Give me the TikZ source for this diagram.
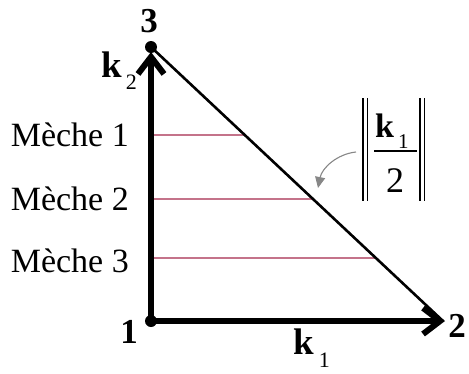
\documentclass[tikz,border=0pt]{standalone}
\usepackage{fontspec}
\setmainfont{Liberation Serif}
\usetikzlibrary{arrows.meta,calc}
\definecolor{meche}{RGB}{165,40,75}
\definecolor{curvegray}{RGB}{135,135,135}
\tikzset{
  axis/.style={line width=6pt,-{Straight Barb[length=17pt,width=26pt]}},
  hyp/.style={line width=2.6pt},
  mecheline/.style={meche,line width=1.3pt},
  lbl/.style={inner sep=0pt,font=\fontsize{34}{34}\selectfont},
  num/.style={inner sep=0pt,font=\fontsize{35}{35}\selectfont\bfseries},
  vec/.style={inner sep=0pt,font=\fontsize{37}{37}\selectfont},
  bar/.style={line width=1.4pt},
  dot/.style={circle,fill=black,inner sep=0pt,minimum size=12pt},
}
\begin{document}
\begin{tikzpicture}[x=1pt,y=-1pt]
\useasboundingbox (0,0) rectangle (469,373);
% vertices
\coordinate (p1) at (151,321);
\coordinate (p3) at (151,47);
\coordinate (p2) at (443,321);
\coordinate (tipx) at (445,321);
\coordinate (tipy) at (151,52);
% red lines (meches)
\coordinate (m1a) at (153,135);
\coordinate (m2a) at (153,199);
\coordinate (m3a) at (153,258);
\coordinate (m1b) at ($(p3)!{(135-47)/274}!(p2)$);
\coordinate (m2b) at ($(p3)!{(199-47)/274}!(p2)$);
\coordinate (m3b) at ($(p3)!{(258-47)/274}!(p2)$);
\draw[mecheline] (m1a) -- (m1b);
\draw[mecheline] (m2a) -- (m2b);
\draw[mecheline] (m3a) -- (m3b);
% hypotenuse
\draw[hyp] (p3) -- (p2);
% axes
\draw[axis] (p1) -- (tipx);
\draw[axis] (p1) -- (tipy);
\node[dot] (d1) at (p1) {};
\node[dot] (d3) at (p3) {};
% vertex labels
\node[num,anchor=base] (n3) at (149,32) {3};
\node[num,anchor=base] (n1) at (129,343) {1};
\node[num,anchor=base] (n2) at (457,337) {2};
% vector labels
\node[vec,anchor=base west] (k2) at (101,77) {\textbf{k}\hspace{4pt}\raisebox{-12pt}{\fontsize{22}{22}\selectfont 2}};
\node[vec,anchor=base west] (k1) at (293,354) {\textbf{k}\hspace{5pt}\raisebox{-13pt}{\fontsize{22}{22}\selectfont 1}};
% meche labels
\node[lbl,anchor=base east] (l1) at (129,146) {Mèche 1};
\node[lbl,anchor=base east] (l2) at (129,210) {Mèche 2};
\node[lbl,anchor=base east] (l3) at (129,272) {Mèche 3};
% norm of k1/2
\node[inner sep=0pt,font=\fontsize{34}{34}\selectfont,anchor=base west] (fk) at (375,137) {\textbf{k}\hspace{4pt}\raisebox{-11pt}{\fontsize{21}{21}\selectfont 1}};
\node[inner sep=0pt,font=\fontsize{36}{36}\selectfont,anchor=base] (f2) at (395,192) {2};
\coordinate (fbl) at (374,151);
\coordinate (fbr) at (417,151);
\draw[line width=1.6pt] (fbl) -- (fbr);
\coordinate (b1t) at (363,98);  \coordinate (b1b) at (363,201);
\coordinate (b2t) at (367.5,98);\coordinate (b2b) at (367.5,201);
\coordinate (b3t) at (420,98);  \coordinate (b3b) at (420,201);
\coordinate (b4t) at (424.5,98);\coordinate (b4b) at (424.5,201);
\draw[bar] (b1t) -- (b1b);
\draw[bar] (b2t) -- (b2b);
\draw[bar] (b3t) -- (b3b);
\draw[bar] (b4t) -- (b4b);
% gray pointer
\coordinate (gs) at (356,152);
\coordinate (ge) at (318,188);
\draw[curvegray,line width=1.1pt,-{Triangle[length=11pt,width=10pt]}] (gs) .. controls (337,154) and (322,168) .. (ge);
\end{tikzpicture}
\end{document}
